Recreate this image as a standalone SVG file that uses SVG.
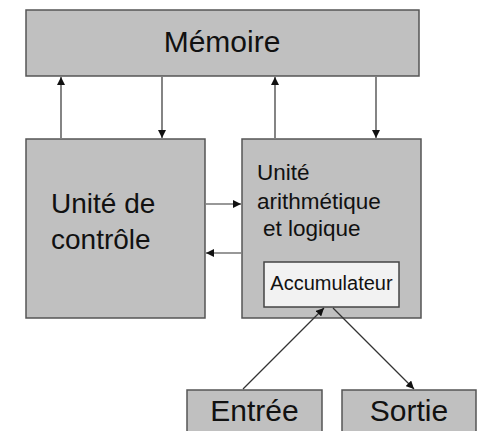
<svg xmlns="http://www.w3.org/2000/svg" width="480" height="431" viewBox="0 0 480 431">
<defs>
<marker id="ah" viewBox="0 0 10 10" refX="10" refY="5" markerWidth="8" markerHeight="8" markerUnits="userSpaceOnUse" orient="auto">
<path d="M0,0 L10,5 L0,10 Z" fill="#111"/>
</marker>
<style>
.box{fill:#c0c0c0;stroke:#555;stroke-width:1.5}
.acc{fill:#f2f2f2;stroke:#444;stroke-width:1.5}
.t{font-family:"Liberation Sans",Arial,sans-serif;fill:#111}
.c{stroke:#333;stroke-width:1.2;fill:none;marker-end:url(#ah)}
</style>
</defs>
<rect width="480" height="431" fill="#fff"/>
<g id="memoire">
<rect class="box" x="26" y="10" width="393" height="66"/>
<text class="t" x="222" y="52" font-size="30" text-anchor="middle">Mémoire</text>
</g>
<g id="controle">
<rect class="box" x="26" y="139" width="179" height="179"/>
<text class="t" x="51" y="213" font-size="28">Unité de</text>
<text class="t" x="51" y="249" font-size="28">contrôle</text>
</g>
<g id="ual">
<rect class="box" x="242" y="139" width="179" height="179"/>
<text class="t" x="257" y="180" font-size="22.5">Unité</text>
<text class="t" x="257" y="209" font-size="22.5">arithmétique</text>
<text class="t" x="263" y="236" font-size="22.5">et logique</text>
</g>
<g id="accumulateur">
<rect class="acc" x="264" y="262" width="135" height="45"/>
<text class="t" x="331.5" y="290" font-size="20" text-anchor="middle">Accumulateur</text>
</g>
<g id="entree">
<rect class="box" x="187" y="390" width="135" height="45"/>
<text class="t" x="254.5" y="421" font-size="30" text-anchor="middle">Entrée</text>
</g>
<g id="sortie">
<rect class="box" x="342" y="390" width="134" height="45"/>
<text class="t" x="409" y="421" font-size="30" text-anchor="middle">Sortie</text>
</g>
<g id="connectors">
<line class="c" x1="61" y1="138" x2="61" y2="77"/>
<line class="c" x1="162" y1="77" x2="162" y2="138"/>
<line class="c" x1="275" y1="138" x2="275" y2="77"/>
<line class="c" x1="376" y1="77" x2="376" y2="138"/>
<line class="c" x1="206" y1="204" x2="241" y2="204"/>
<line class="c" x1="241" y1="253" x2="206" y2="253"/>
<line class="c" x1="243" y1="389" x2="324" y2="308"/>
<line class="c" x1="333" y1="308" x2="414" y2="389"/>
</g>
</svg>
